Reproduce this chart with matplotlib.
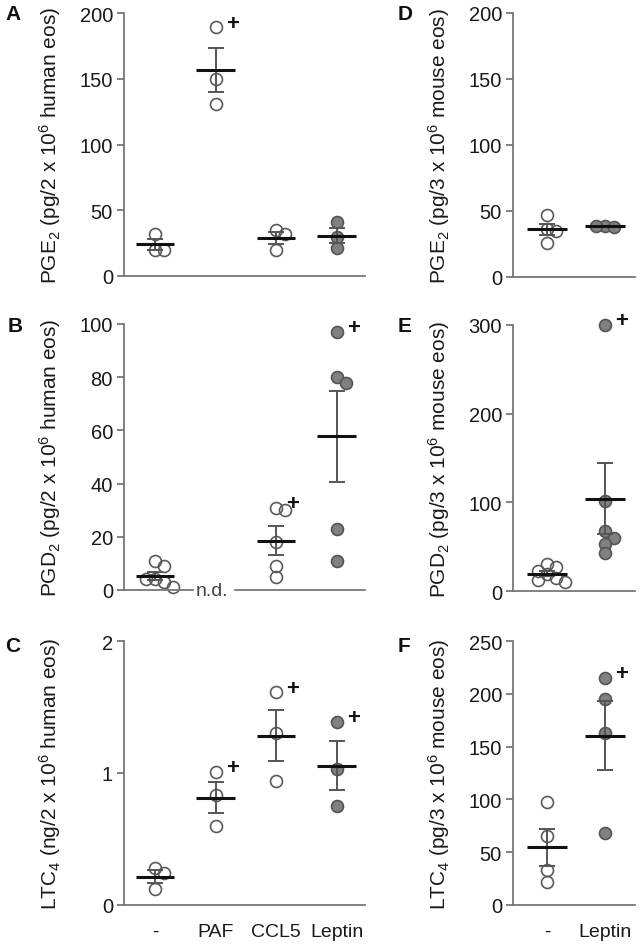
import numpy as np
import matplotlib
matplotlib.use('Agg')
import matplotlib.pyplot as plt

plt.rcParams['font.family'] = ['Liberation Sans', 'DejaVu Sans']
plt.rcParams['mathtext.fontset'] = 'custom'
plt.rcParams['mathtext.rm'] = 'Liberation Sans'
plt.rcParams['mathtext.it'] = 'Liberation Sans:italic'

# ---- data ----
human_groups = ['-', 'PAF', 'CCL5', 'Leptin']
human_filled = [False, False, False, True]
pge2_human = [[32, 20, 20], [189, 150, 131], [35, 32, 20], [41, 30, 21]]
pge2_human_sig = [False, True, False, False]
pgd2_human = [[11, 9, 4, 3, 4, 1], None, [31, 30, 18, 9, 5], [97, 80, 78, 23, 11]]
pgd2_human_sig = [False, False, True, True]
ltc4_human = [[0.28, 0.24, 0.12], [1.01, 0.83, 0.60], [1.61, 1.30, 0.94], [1.39, 1.03, 0.75]]
ltc4_human_sig = [False, True, True, True]

mouse_groups = ['-', 'Leptin']
mouse_filled = [False, True]
pge2_mouse = [[47, 36, 26, 35], [39, 38, 39]]
pge2_mouse_sig = [False, False]
pgd2_mouse = [[31, 27, 22, 19, 15, 12, 10], [300, 101, 68, 60, 53, 43]]
pgd2_mouse_sig = [False, True]
ltc4_mouse = [[98, 65, 33, 22], [215, 195, 163, 68]]
ltc4_mouse_sig = [False, True]

W, H = 640, 945
fig = plt.figure(figsize=(W / 100, H / 100), dpi=100)


def rect(x0, x1, ytop, ybot):
    return [x0 / W, 1 - ybot / H, (x1 - x0) / W, (ybot - ytop) / H]


SPINE = '#777777'
DIAM = 12.5  # marker diameter in px


def swarm_x(ax, xc, vals):
    # simple beeswarm in pixel space
    tr = ax.transData
    placed = []
    xs = []
    step = DIAM * 0.72
    for v in vals:
        px0, py = tr.transform((xc, v))
        for k in [0, 1, -1, 2, -2, 3, -3, 4, -4]:
            px = px0 + k * step
            if all((px - qx) ** 2 + (py - qy) ** 2 >= (DIAM * 0.7) ** 2 for qx, qy in placed):
                break
        placed.append((px, py))
        xs.append(tr.inverted().transform((px, py))[0])
    return xs


def panel(ax, groups, data, sig, filled, ylim, yticks, ylabel, xlim, halfw,
          label_x, show_x, nd=None):
    ax.set_xlim(*xlim)
    ax.set_ylim(*ylim)
    ax.set_yticks(yticks)
    for s in ['top', 'right']:
        ax.spines[s].set_visible(False)
    ax.spines['left'].set_color(SPINE)
    ax.spines['left'].set_linewidth(1.3)
    ax.spines['bottom'].set_color(SPINE)
    ax.spines['bottom'].set_linewidth(1.3)
    ax.tick_params(axis='y', length=5, width=1.3, color=SPINE, labelsize=14.5,
                   labelcolor='#1a1a1a', pad=3)
    ax.set_ylabel(ylabel, fontsize=15, color='#1a1a1a')
    ax.yaxis.set_label_coords(label_x, 0.5)
    if show_x:
        ax.set_xticks(range(len(groups)))
        ax.set_xticklabels(groups, fontsize=14, color='#1a1a1a')
        ax.tick_params(axis='x', length=0, pad=13)
    else:
        ax.set_xticks([])
    for i, vals in enumerate(data):
        if vals is None:
            continue
        vals = np.array(vals, dtype=float)
        xs = swarm_x(ax, i, vals)
        if filled[i]:
            ax.plot(xs, vals, 'o', ms=8.6, mfc='#808080', mec='#555555', mew=1.2,
                    ls='none', zorder=2, clip_on=False)
        else:
            ax.plot(xs, vals, 'o', ms=8.6, mfc='none', mec='#5a5a5a', mew=1.2,
                    ls='none', zorder=2, clip_on=False)
        m = vals.mean()
        sem = vals.std(ddof=1) / np.sqrt(len(vals))
        ax.errorbar(i, m, yerr=sem, fmt='none', ecolor='#555555', elinewidth=1.4,
                    capsize=6, capthick=1.4, zorder=3)
        ax.hlines(m, i - halfw, i + halfw, color='#111111', lw=2.2, zorder=4)
        if sig[i]:
            j = int(np.argmax(vals))
            ax.annotate('+', (xs[j], vals[j]), xytext=(12, 3), textcoords='offset points',
                        ha='center', va='center', fontsize=16, fontweight='bold',
                        color='#111111')
    if nd is not None:
        ax.spines['bottom'].set_visible(False)
        ax.axhline(0, 0, nd[0], color=SPINE, lw=1.3, clip_on=False)
        ax.axhline(0, nd[1], 1, color=SPINE, lw=1.3, clip_on=False)
        ax.text(nd[2], 0, 'n.d.', ha='center', va='center', fontsize=14, color='#444444')


left_x = (-0.512, 3.47)
right_x = (-0.586, 1.517)

axA = fig.add_axes(rect(124, 365, 14, 277))
panel(axA, human_groups, pge2_human, pge2_human_sig, human_filled, (0, 200),
      [0, 50, 100, 150, 200], r'PGE$_2$ (pg/2 x 10$^6$ human eos)', left_x, 0.32, -0.253, False)

axB = fig.add_axes(rect(124, 365, 325, 591))
panel(axB, human_groups, pgd2_human, pgd2_human_sig, human_filled, (0, 100),
      [0, 20, 40, 60, 80, 100], r'PGD$_2$ (pg/2 x 10$^6$ human eos)', left_x, 0.32, -0.253, False,
      nd=(0.286, 0.46, 0.94))

axC = fig.add_axes(rect(124, 365, 642, 906))
panel(axC, human_groups, ltc4_human, ltc4_human_sig, human_filled, (0, 2),
      [0, 1, 2], r'LTC$_4$ (ng/2 x 10$^6$ human eos)', left_x, 0.32, -0.253, True)

axD = fig.add_axes(rect(513, 635, 14, 278))
panel(axD, mouse_groups, pge2_mouse, pge2_mouse_sig, mouse_filled, (0, 200),
      [0, 50, 100, 150, 200], r'PGE$_2$ (pg/3 x 10$^6$ mouse eos)', right_x, 0.34, -0.5, False)

axE = fig.add_axes(rect(513, 635, 326, 592))
panel(axE, mouse_groups, pgd2_mouse, pgd2_mouse_sig, mouse_filled, (0, 300),
      [0, 100, 200, 300], r'PGD$_2$ (pg/3 x 10$^6$ mouse eos)', right_x, 0.34, -0.5, False)

axF = fig.add_axes(rect(513, 635, 642, 906))
panel(axF, mouse_groups, ltc4_mouse, ltc4_mouse_sig, mouse_filled, (0, 250),
      [0, 50, 100, 150, 200, 250], r'LTC$_4$ (pg/3 x 10$^6$ mouse eos)', right_x, 0.34, -0.5, True)

for letter, (x, y) in zip('ABCDEF', [(13, 15), (15, 327), (13, 647),
                                      (405, 15), (405, 327), (404, 647)]):
    fig.text(x / W, 1 - y / H, letter, ha='center', va='center', fontsize=15,
             fontweight='bold', color='#111111')

fig.savefig('out.png', dpi=100)
